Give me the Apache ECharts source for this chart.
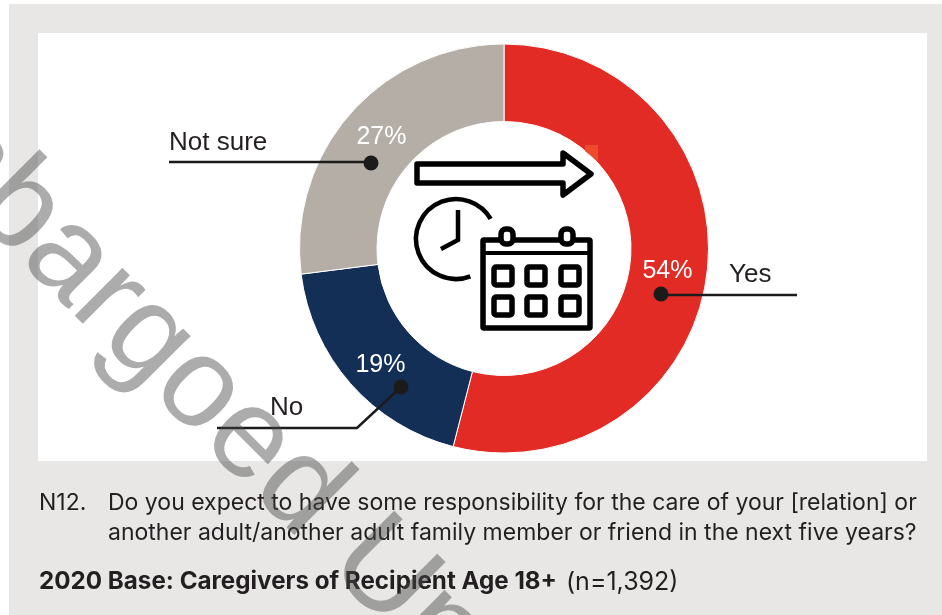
<!DOCTYPE html>
<html><head><meta charset="utf-8">
<style>html,body{margin:0;padding:0;background:#fff}#c{width:942px;height:615px}</style>
<script src="https://cdn.jsdelivr.net/npm/echarts@6/dist/echarts.min.js"></script>
</head><body><div id="c"></div>
<script>
const categories = ['Yes', 'No', 'Not sure'];
const values = [54, 19, 27];
const colors = ['#e32b26', '#142f55', '#b4aea6'];
const questionLines = ['Do you expect to have some responsibility for the care of your [relation] or', 'another adult/another adult family member or friend in the next five years?'];
const questionId = 'N12.';
const baseBold = '2020 Base: Caregivers of Recipient Age 18+';
const baseRest = '(n=1,392)';
const watermark = 'Embargoed Until';

const chartFont = '"Liberation Sans", Arial, sans-serif';
const noteFont = 'Inter, sans-serif';
const ink = '#231f20';
const txt = (x, y, text, size, extra) => ({type:'text', x, y, z:20, style:Object.assign({text, fill:ink, font:`${size}px ${chartFont}`, textVerticalAlign:'middle'}, extra||{})});
const note = (x, y, text, weight, size) => ({type:'text', x, y, z:20, style:{text, fill:ink, font:`${weight||400} ${size||23}px ${noteFont}`, textVerticalAlign:'middle'}});
const line = (pts, w) => ({type:'polyline', z:20, shape:{points:pts}, style:{stroke:w&&w.c||'#1b1b1b', lineWidth:w&&w.w||2.5, fill:null, lineJoin:'miter'}});
const dot = (x, y) => ({type:'circle', z:21, shape:{cx:x, cy:y, r:7.5}, style:{fill:'#1b1b1b'}});
const ic = {stroke:'#000', lineWidth:5.5, fill:'#fff', lineJoin:'round'};
const cellXs = [494, 527, 561], cellYs = [267, 297];
const cells = [];
cellXs.forEach(x => cellYs.forEach(y => cells.push({type:'rect', z:15, shape:{x, y, width:18, height:18, r:2}, style:ic})));
const labelOffsets = [[-4,1],[3,5],[4,0]];

const chart = echarts.init(document.getElementById('c'), null, {renderer:'canvas'});
chart.setOption({
  animation:false,
  backgroundColor:'#fff',
  series:[{
    type:'pie', z:5, center:[504,248.5], radius:[127,204.5], startAngle:90, clockwise:true, silent:true,
    label:{show:true, position:'inside', formatter:'{d}%', color:'#fff', fontSize:25, fontFamily:chartFont},
    labelLine:{show:false},
    itemStyle:{borderColor:'#fff', borderWidth:1},
    data:categories.map((name,i)=>({name, value:values[i], itemStyle:{color:colors[i]}, label:{offset:labelOffsets[i]}}))
  }],
  graphic:{elements:[
    {type:'rect', z:-2, silent:true, shape:{x:9,y:4,width:933,height:611}, style:{fill:'#e8e7e6'}},
    {type:'rect', z:-1, silent:true, shape:{x:38,y:33,width:889,height:428}, style:{fill:'#fff'}},
    {type:'polygon', z:14, shape:{points:[[585,145],[598,145],[598,162],[590,155],[585,151]]}, style:{fill:'#ee4a2c'}},
    line([[169,162],[371,162]]), dot(371,163), txt(169,143,categories[2],26),
    line([[661,295],[797,295]]), dot(661,294), txt(729,275,categories[0],26),
    line([[217,428],[357,428],[401,387]]), dot(401,387), txt(270,408,categories[1],26),
    {type:'polygon', z:15, shape:{points:[[417,164],[563,164],[563,153],[591,174],[563,195],[563,183],[417,183]]}, style:ic},
    {type:'arc', z:15, shape:{cx:456,cy:239,r:40,startAngle:69*Math.PI/180,endAngle:-30*Math.PI/180,clockwise:true}, style:{stroke:'#000',lineWidth:4.5,fill:null}},
    {type:'polyline', z:15, shape:{points:[[458,210],[458,240],[441,249]]}, style:{stroke:'#000',lineWidth:4.5,fill:null}},
    {type:'rect', z:15, shape:{x:483,y:240,width:107,height:88,r:1}, style:ic},
    {type:'line', z:15, shape:{x1:483,y1:253,x2:590,y2:253}, style:{stroke:'#000',lineWidth:4}},
    {type:'rect', z:16, shape:{x:501,y:229,width:12,height:15,r:5}, style:ic},
    {type:'rect', z:16, shape:{x:561,y:229,width:12,height:15,r:5}, style:ic},
    ...cells,
    note(39,503,questionId), note(108,503,questionLines[0]), note(108,533,questionLines[1]),
    note(39,582,baseBold,700,24.2), note(566,582,baseRest,400,25),
    {type:'text', z:50, silent:true, x:-143, y:48, rotation:-Math.PI/4, style:{text:watermark, fill:'rgba(70,70,70,0.45)', font:`128px ${chartFont}`, textVerticalAlign:'middle'}}
  ]}
});
</script></body></html>
